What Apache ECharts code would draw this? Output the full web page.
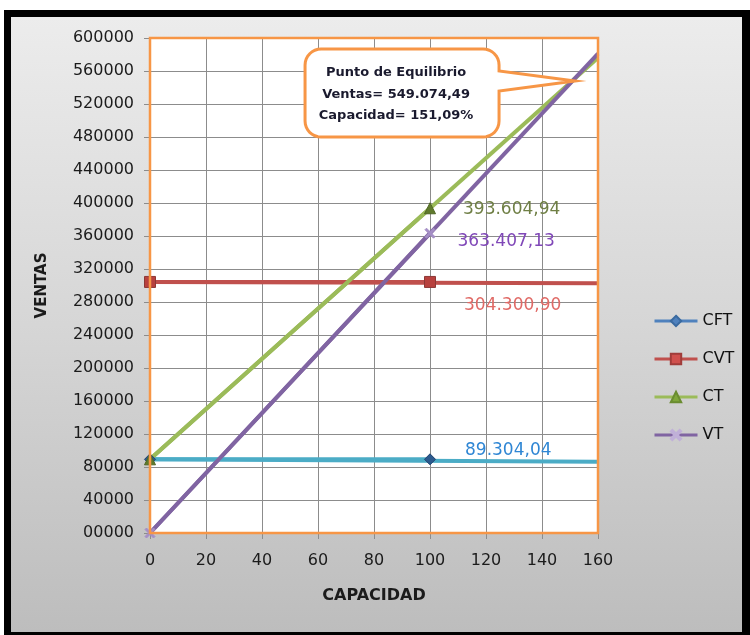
<!DOCTYPE html>
<html>
<head>
<meta charset="utf-8">
<script src="https://cdn.jsdelivr.net/npm/echarts@6/dist/echarts.min.js"></script>
<style>
  html, body { margin: 0; padding: 0; background: #ffffff; }
  #frame { position: absolute; left: 4px; top: 10px; width: 746px; height: 625px; box-sizing: border-box;
           border: 7px solid #000; border-right-width: 8px; border-bottom-width: 3px;
           background: linear-gradient(to bottom, #ececec 0%, #d6d6d6 50%, #bdbdbd 100%); }
  #chart { position: absolute; left: 0; top: 0; width: 750px; height: 635px; }
</style>
</head>
<body>
<div id="frame"></div>
<div id="chart"></div>
<script>
// ---- data ----
const capacidad = [0, 100];
const seriesNames = ['CFT', 'CVT', 'CT', 'VT'];
const cft = [89304.04, 89304.04];
const cvt = [304300.90, 304300.90];
const ct  = [89304.04, 393604.94];
const vt  = [0, 363407.13];
// linear trend lines extended to capacity 160
const trendX   = [0, 160];
const cftTrend = [89304.04, 86500];
const cvtTrend = [304300.90, 302800];
const ctTrend  = [89304.04, 576000];
const vtTrend  = [0, 581000];
const equilibrium = [151.09, 549074.49];
const yMin = 0, yMax = 600000, yStep = 40000;
const xMin = 0, xMax = 160, xStep = 20;

function fmtEs(v) {
  const parts = v.toFixed(2).split('.');
  parts[0] = parts[0].replace(/\B(?=(\d{3})+(?!\d))/g, '.');
  return parts[0] + ',' + parts[1];
}

const FONT = 'DejaVu Sans';
const chart = echarts.init(document.getElementById('chart'), null, { renderer: 'canvas' });

const xSymbol = 'path://M0,1.5L1.5,0L5,3.5L8.5,0L10,1.5L6.5,5L10,8.5L8.5,10L5,6.5L1.5,10L0,8.5L3.5,5Z';

function mainSeries(name, ys, cfg) {
  return {
    name: name, type: 'line', z: 5,
    symbol: cfg.symbol, symbolSize: cfg.symbolSize,
    itemStyle: { color: cfg.marker, borderColor: cfg.markerBorder, borderWidth: 1 },
    lineStyle: { color: cfg.line, width: 4 },
    data: capacidad.map((x, i) => ({
      value: [x, ys[i]],
      label: i === 1 ? {
        show: true, position: 'right', distance: cfg.labelDist,
        offset: cfg.labelOffset, color: cfg.labelColor,
        fontFamily: FONT, fontSize: 17,
        formatter: () => fmtEs(ys[i])
      } : { show: false }
    }))
  };
}
function trendSeries(ys, color) {
  return {
    name: 'trend', type: 'line', z: 3, silent: true,
    symbol: 'none', lineStyle: { color: color, width: 4 },
    data: trendX.map((x, i) => [x, ys[i]])
  };
}

const option = {
  backgroundColor: 'transparent',
  animation: false,
  grid: { left: 150, top: 38, width: 448, height: 495, show: true,
          backgroundColor: '#ffffff', borderColor: '#f79646', borderWidth: 0 },
  xAxis: {
    type: 'value', min: xMin, max: xMax, interval: xStep,
    name: 'CAPACIDAD', nameLocation: 'middle', nameGap: 55,
    nameTextStyle: { fontFamily: FONT, fontWeight: 'bold', fontSize: 16, color: '#1b1b1b' },
    axisLine: { show: false },
    axisTick: { show: true, inside: false, length: 6, lineStyle: { color: '#8c8c8c' } },
    axisLabel: { margin: 20, fontFamily: FONT, fontSize: 16, color: '#1b1b1b' },
    splitLine: { show: true, lineStyle: { color: '#8c8c8c', width: 1 } }
  },
  yAxis: {
    type: 'value', min: yMin, max: yMax, interval: yStep,
    name: 'VENTAS', nameLocation: 'middle', nameGap: 100,
    nameTextStyle: { fontFamily: FONT, fontWeight: 'bold', fontSize: 15, color: '#1b1b1b' },
    axisLine: { show: false },
    axisTick: { show: true, inside: false, length: 6, lineStyle: { color: '#8c8c8c' } },
    axisLabel: { margin: 16, fontFamily: FONT, fontSize: 16, color: '#1b1b1b',
                 formatter: v => String(v).padStart(5, '0') },
    splitLine: { show: true, lineStyle: { color: '#8c8c8c', width: 1 } }
  },
  legend: {
    orient: 'vertical', left: 648, top: 308, itemGap: 22,
    itemWidth: 43, itemHeight: 13,
    textStyle: { fontFamily: FONT, fontSize: 16, color: '#111' },
    data: [
      { name: 'CFT', lineStyle: { color: '#4f81bd', width: 3 }, itemStyle: { color: '#4f81bd', borderColor: '#3a6aa0' } },
      { name: 'CVT', lineStyle: { color: '#c0504d', width: 3 }, itemStyle: { color: '#d0504d', borderColor: '#a03c3a' } },
      { name: 'CT',  lineStyle: { color: '#9bbb59', width: 3 }, itemStyle: { color: '#7fa63a', borderColor: '#6a8c30' } },
      { name: 'VT',  lineStyle: { color: '#8064a2', width: 3 }, itemStyle: { color: '#c0b0d8', borderColor: '#c0b0d8' } }
    ]
  },
  series: [
    trendSeries(cftTrend, '#4bacc6'),
    trendSeries(cvtTrend, '#c0504d'),
    trendSeries(ctTrend, '#9bbb59'),
    trendSeries(vtTrend, '#8064a2'),
    mainSeries('CFT', cft, { symbol: 'diamond', symbolSize: 11, marker: '#2c5a8e', markerBorder: '#1f4370',
      line: '#4bacc6', labelColor: '#2f86d4', labelDist: 29, labelOffset: [0, -9] }),
    mainSeries('CVT', cvt, { symbol: 'rect', symbolSize: 11, marker: '#b8413e', markerBorder: '#8c3836',
      line: '#c0504d', labelColor: '#e06a66', labelDist: 28, labelOffset: [0, 24] }),
    mainSeries('CT', ct, { symbol: 'triangle', symbolSize: 11, marker: '#5f7a2c', markerBorder: '#4f6624',
      line: '#9bbb59', labelColor: '#6f7f45', labelDist: 27, labelOffset: [0, 1] }),
    mainSeries('VT', vt, { symbol: xSymbol, symbolSize: 10, marker: '#a58fc6', markerBorder: '#a58fc6',
      line: '#8064a2', labelColor: '#8048b8', labelDist: 22, labelOffset: [0, 8] })
  ]
};
chart.setOption(option);

// plot-area orange frame
const pTL = chart.convertToPixel({ gridIndex: 0 }, [xMin, yMax]);
const pBR = chart.convertToPixel({ gridIndex: 0 }, [xMax, yMin]);

// callout anchored to the equilibrium point
const tip = chart.convertToPixel({ gridIndex: 0 }, equilibrium);
const L = tip[0] - 268, R = tip[0] - 74, T = tip[1] - 31, B = tip[1] + 57, r = 16;
const t1 = T + 22, t2 = T + 42;
function arc(cx, cy, a0, a1, pts) {
  const n = 8;
  for (let k = 0; k <= n; k++) {
    const a = a0 + (a1 - a0) * k / n;
    pts.push([cx + r * Math.cos(a), cy + r * Math.sin(a)]);
  }
}
const pts = [];
arc(R - r, T + r, -Math.PI / 2, 0, pts);          // top-right
pts.push([R, t1], [tip[0] + 2, tip[1] + 1], [R, t2]);
arc(R - r, B - r, 0, Math.PI / 2, pts);           // bottom-right
arc(L + r, B - r, Math.PI / 2, Math.PI, pts);     // bottom-left
arc(L + r, T + r, Math.PI, 1.5 * Math.PI, pts);   // top-left

chart.setOption({
  graphic: [
    { type: 'rect', z: 40, silent: true,
      shape: { x: pTL[0], y: pTL[1], width: pBR[0] - pTL[0], height: pBR[1] - pTL[1] },
      style: { fill: 'none', stroke: '#f79646', lineWidth: 2.5 } },
    { type: 'polygon', z: 50, shape: { points: pts },
      style: { fill: '#ffffff', stroke: '#f79646', lineWidth: 3 } },
    { type: 'text', z: 51, x: (L + R) / 2 - 6, y: T + 13,
      style: { text: 'Punto de Equilibrio\nVentas= ' + fmtEs(equilibrium[1]) + '\nCapacidad= ' + equilibrium[0].toFixed(2).replace('.', ',') + '%',
               fontFamily: FONT, fontWeight: 'bold', fontSize: 13, lineHeight: 21.5,
               fill: '#1a1a2e', align: 'center', verticalAlign: 'top' } }
  ]
});
</script>
</body>
</html>
